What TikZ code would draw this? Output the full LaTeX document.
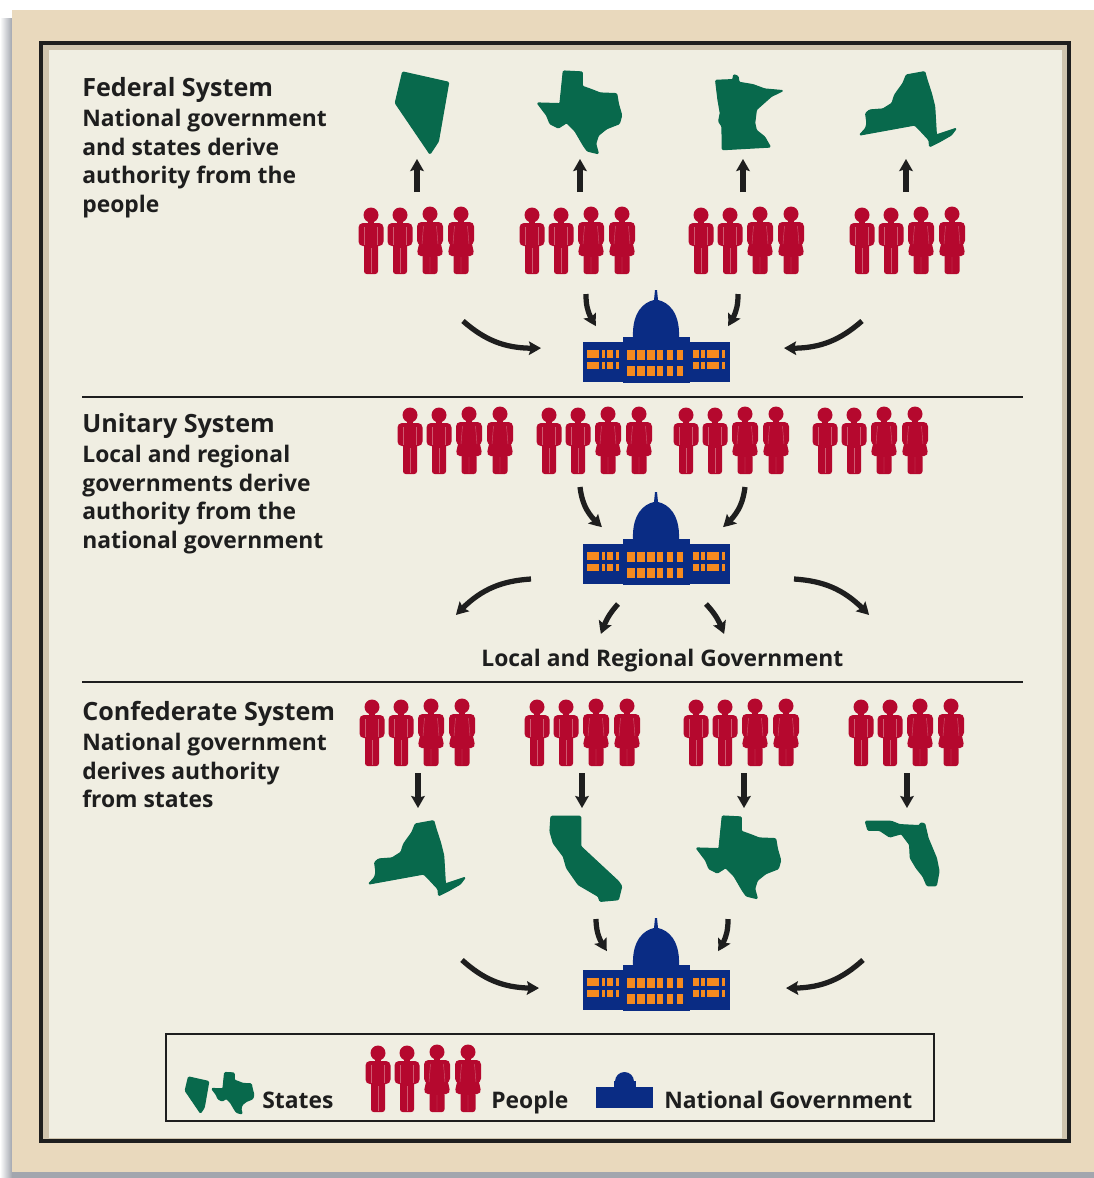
\documentclass[tikz,border=0pt]{standalone}
\usepackage{fontspec}
\setmainfont{Open Sans}
\usepackage{tikz}
\usetikzlibrary{arrows.meta}
\usetikzlibrary{bending}
\definecolor{statecol}{HTML}{08694C}
\definecolor{peoplecol}{HTML}{B5082E}
\definecolor{seamcol}{HTML}{CF5A70}
\definecolor{capcol}{HTML}{0A2C84}
\definecolor{wincol}{HTML}{F58A1F}
\definecolor{papercol}{HTML}{F0EEE2}
\definecolor{framecol}{HTML}{E9D9BD}
\definecolor{bandcol}{HTML}{CFC4AE}
\definecolor{shadowcol}{HTML}{A2A6AE}
\definecolor{inkcol}{HTML}{1E1E1E}
\tikzset{
  statefill/.style={fill=statecol,draw=statecol,line width=.7pt,line join=round,rounded corners=.6pt},
  straightarrow/.style={draw=inkcol,line width=.125cm,
    -{Stealth[length=.24cm,width=.27cm,inset=.04cm]}},
  curvearrow/.style={draw=inkcol,line width=.105cm,
    -{Stealth[bend,length=.24cm,width=.27cm,inset=.04cm]}},
  bodytext/.style={text=inkcol,anchor=north west,align=left,inner sep=0pt,
    font=\fontsize{13}{16.3}\selectfont\bfseries},
  headtext/.style={text=inkcol,anchor=base west,inner sep=0pt,
    font=\fontsize{14.3}{16}\selectfont\bfseries},
  keytext/.style={text=inkcol,anchor=base west,inner sep=0pt,
    font=\fontsize{13}{16}\selectfont\bfseries},
  ruleline/.style={draw=inkcol,line width=.055cm},
  nevada/.pic={
    \path[statefill,scale=1/3,shift={(-213,-160)}] (155,37) -- (293,68) -- (262,245) -- (237,283) -- (133,130) -- cycle;
  },
  texas/.pic={
    \path[statefill,scale=1/3,shift={(-690,-155)}] (640,32) -- (697,35) -- (697,78) -- (725,88) -- (750,98) -- (800,100)
      -- (805,130) -- (815,165) -- (808,190) -- (770,205) -- (745,225) -- (737,250) -- (745,280) -- (712,272)
      -- (700,255) -- (675,212) -- (650,187) -- (625,203) -- (600,190) -- (590,165) -- (562,128) -- (630,130) -- cycle;
  },
  minnesota/.pic={
    \path[statefill,scale=1/3,shift={(-280,-157)}] (198,62) -- (250,60) -- (252,45) -- (265,50) -- (268,68) -- (310,75)
      -- (345,88) -- (400,93) -- (365,110) -- (320,150) -- (315,190) -- (320,212) -- (345,232) -- (362,262)
      -- (218,270) -- (217,200) -- (207,185) -- (212,160) -- (205,120) -- cycle;
  },
  newyork/.pic={
    \path[statefill,scale=1/3,shift={(-775,-147)}] (825,35) -- (832,60) -- (845,100) -- (855,140) -- (860,225) -- (890,215)
      -- (920,205) -- (905,225) -- (870,245) -- (840,260) -- (838,240) -- (815,215) -- (795,195) -- (630,225)
      -- (648,205) -- (652,190) -- (648,160) -- (660,150) -- (700,147) -- (727,130) -- (735,105) -- (742,95)
      -- (760,70) -- (770,45) -- cycle;
  },
  california/.pic={
    \path[statefill,scale=1/3,shift={(-705,-178)}] (603,50) -- (692,50) -- (692,140) -- (805,245) -- (815,260) -- (805,300)
      -- (750,305) -- (745,290) -- (685,255) -- (650,205) -- (640,170) -- (610,130) -- (600,95) -- cycle;
  },
  florida/.pic={
    \path[statefill,scale=1/3,shift={(-700,-160)}] (587,65) -- (665,65) -- (690,75) -- (750,78) -- (752,70) -- (765,72)
      -- (775,115) -- (800,175) -- (808,215) -- (800,258) -- (772,258) -- (760,230) -- (740,205) -- (722,175)
      -- (720,135) -- (695,102) -- (660,112) -- (630,92) -- (595,92) -- cycle;
  },
  % origin of a figure is the middle of the head
  manfig/.pic={
    \fill[peoplecol] (0,0) circle (7.5);
    \fill[peoplecol] (-3,5) rectangle (3,10);
    \fill[peoplecol,rounded corners=2.5] (-12.5,8) rectangle (12.5,31);
    \fill[peoplecol,rounded corners=1.5] (-7,8) rectangle (7,59);
    \draw[seamcol,line width=.25pt] (-6.5,12) -- (-6.5,30) (6.5,12) -- (6.5,30) (0,33) -- (0,58);
  },
  womanfig/.pic={
    \fill[peoplecol] (0,0) circle (7.5);
    \fill[peoplecol] (-3,5) rectangle (3,10);
    \fill[peoplecol,rounded corners=2.5] (-13,8) rectangle (13,31);
    \fill[peoplecol,rounded corners=1] (-6,8) -- (6,8) -- (13,39) -- (11,42) -- (-11,42) -- (-13,39) -- cycle;
    \fill[peoplecol,rounded corners=1.5] (-7.5,40) rectangle (7.5,60);
    \draw[seamcol,line width=.25pt] (-6.5,12) -- (-8,30) (6.5,12) -- (8,30) (0,43) -- (0,59);
  },
  % four figures: two men, two women
  crowd/.pic={
    \pic at (0,1) {manfig};
    \pic at (29,1) {manfig};
    \pic at (59,0) {womanfig};
    \pic at (90,0) {womanfig};
  },
  capitol/.pic={
    \fill[capcol] (-73.5,-20) rectangle (73.5,20);
    \fill[capcol] (-33.5,-25) rectangle (33.5,21);
    \fill[capcol] (-23,-25) .. controls (-24,-50) and (-12,-60) .. (-2,-62) -- (-1,-72) -- (1,-72) -- (2,-62)
      .. controls (12,-60) and (24,-50) .. (23,-25) -- cycle;
    \foreach \xa/\xb in {-69/-57,-54/-51,-49/-43,-40/-37,37/43,45/49,51/63,66/69} {
      \fill[wincol] (\xa,-12) rectangle (\xb,-4);
      \fill[wincol] (\xa,0) rectangle (\xb,7);
    }
    \foreach \xa/\xb in {-29/-21,-19/-11,-9/-1,1/7,11/17,21/27} {
      \fill[wincol] (\xa,-12) rectangle (\xb,-2);
      \fill[wincol] (\xa,4) rectangle (\xb,14);
    }
  },
  smallcapitol/.pic={
    \fill[capcol] (-28.5,-10.5) rectangle (28.5,10.5);
    \fill[capcol] (-11,-17) rectangle (11,-10);
    \fill[capcol] (-9.5,-16) arc (180:360:9.5);
  }
}

\begin{document}
\begin{tikzpicture}[x=.02cm,y=-.02cm]
\useasboundingbox (0,0) rectangle (1094,1178);

% sheet, shadow and frame
\fill[white] (0,0) rectangle (1094,1178);
\shade[left color=white,right color=shadowcol] (0,18) rectangle (12,1178);
\fill[shadowcol] (12,1170) rectangle (1094,1178);
\fill[framecol] (12,10) rectangle (1094,1172);
\fill[bandcol] (41,43) rectangle (1069,1141);
\fill[papercol] (49,50) rectangle (1062,1138);
\draw[inkcol,line width=.07cm] (41,43) rectangle (1069,1141);

\draw[ruleline] (82,397) coordinate (ruleA) -- (1023,397) coordinate (ruleB);
\draw[ruleline] (82,682) coordinate (ruleC) -- (1023,682) coordinate (ruleD);

% left column
\node[headtext] (fedhead) at (82,96) {Federal System};
\node[bodytext] (fedtext) at (82,109) {National government\\and states derive\\authority from the\\people};
\node[headtext] (unihead) at (82,432) {Unitary System};
\node[bodytext] (unitext) at (82,445) {Local and regional\\governments derive\\authority from the\\national government};
\node[headtext] (conhead) at (82,720) {Confederate System};
\node[bodytext] (context) at (82,733) {National government\\derives authority\\from states};
\node[keytext] (localtext) at (481,666) {Local and Regional Government};

% the people
\foreach \n/\x/\y in {a/371/214,b/532/214,c/701/214,d/862/214,
                      e/410/414,f/549/414,g/686/414,h/825/414,
                      i/372/706,j/537/706,k/696/706,l/861/706} {
  \pic (crowd\n) at (\x,\y) {crowd};
}

% the states
\pic (nvtop) at (422,113) {nevada};
\pic (txtop) at (580,112) {texas};
\pic (mntop) at (743,112) {minnesota};
\pic (nytop) at (908,109) {newyork};
\pic (nybot) at (417,858) {newyork};
\pic (cabot) at (585,859) {california};
\pic (txbot) at (739,857) {texas};
\pic (flbot) at (903,853) {florida};

% the national governments
\foreach \n/\y in {a/362,b/564,c/990} {
  \pic (cap\n) at (656,\y) {capitol};
}

% straight arrows
\foreach \n/\x/\ya/\yb in {a/417/192/159,b/580/192/159,c/743/192/159,d/906/192/159,
                           e/418/773/808,f/582/773/808,g/744/773/808,h/907/773/808} {
  \coordinate (sa\n) at (\x,\ya);
  \coordinate (sb\n) at (\x,\yb);
  \draw[straightarrow] (sa\n) -- (sb\n);
}

% curved arrows
\foreach \n/\xa/\ya/\xb/\yb/\bnd in {a/586/294/596/326/18,b/738/294/728/326/-18,
    c/463/321/541/348/22,d/862/321/784/348/-22,
    e/580/487/602/527/22,f/745/487/723/527/-22,
    g/531/579/456/615/22,h/794/579/869/615/-22,
    i/618/604/601/634/12,j/706/604/724/634/-12,
    k/596/919/607/951/18,l/728/919/718/951/-18,
    m/462/960/539/988/22,n/863/960/786/988/-22} {
  \coordinate (ca\n) at (\xa,\ya);
  \coordinate (cb\n) at (\xb,\yb);
  \draw[curvearrow] (ca\n) to[bend right=\bnd] (cb\n);
}

% key
\draw[inkcol,line width=.055cm,fill=papercol] (166,1034) rectangle (934,1121);
\pic[scale=.44] (nvkey) at (197,1095) {nevada};
\pic[scale=.5] (txkey) at (233,1093) {texas};
\pic (crowdkey) at (378,1052) {crowd};
\pic (capkey) at (624.5,1097.5) {smallcapitol};
\node[keytext] (keyA) at (262,1108) {States};
\node[keytext] (keyB) at (491,1108) {People};
\node[keytext] (keyC) at (664,1108) {National Government};
\end{tikzpicture}
\end{document}
